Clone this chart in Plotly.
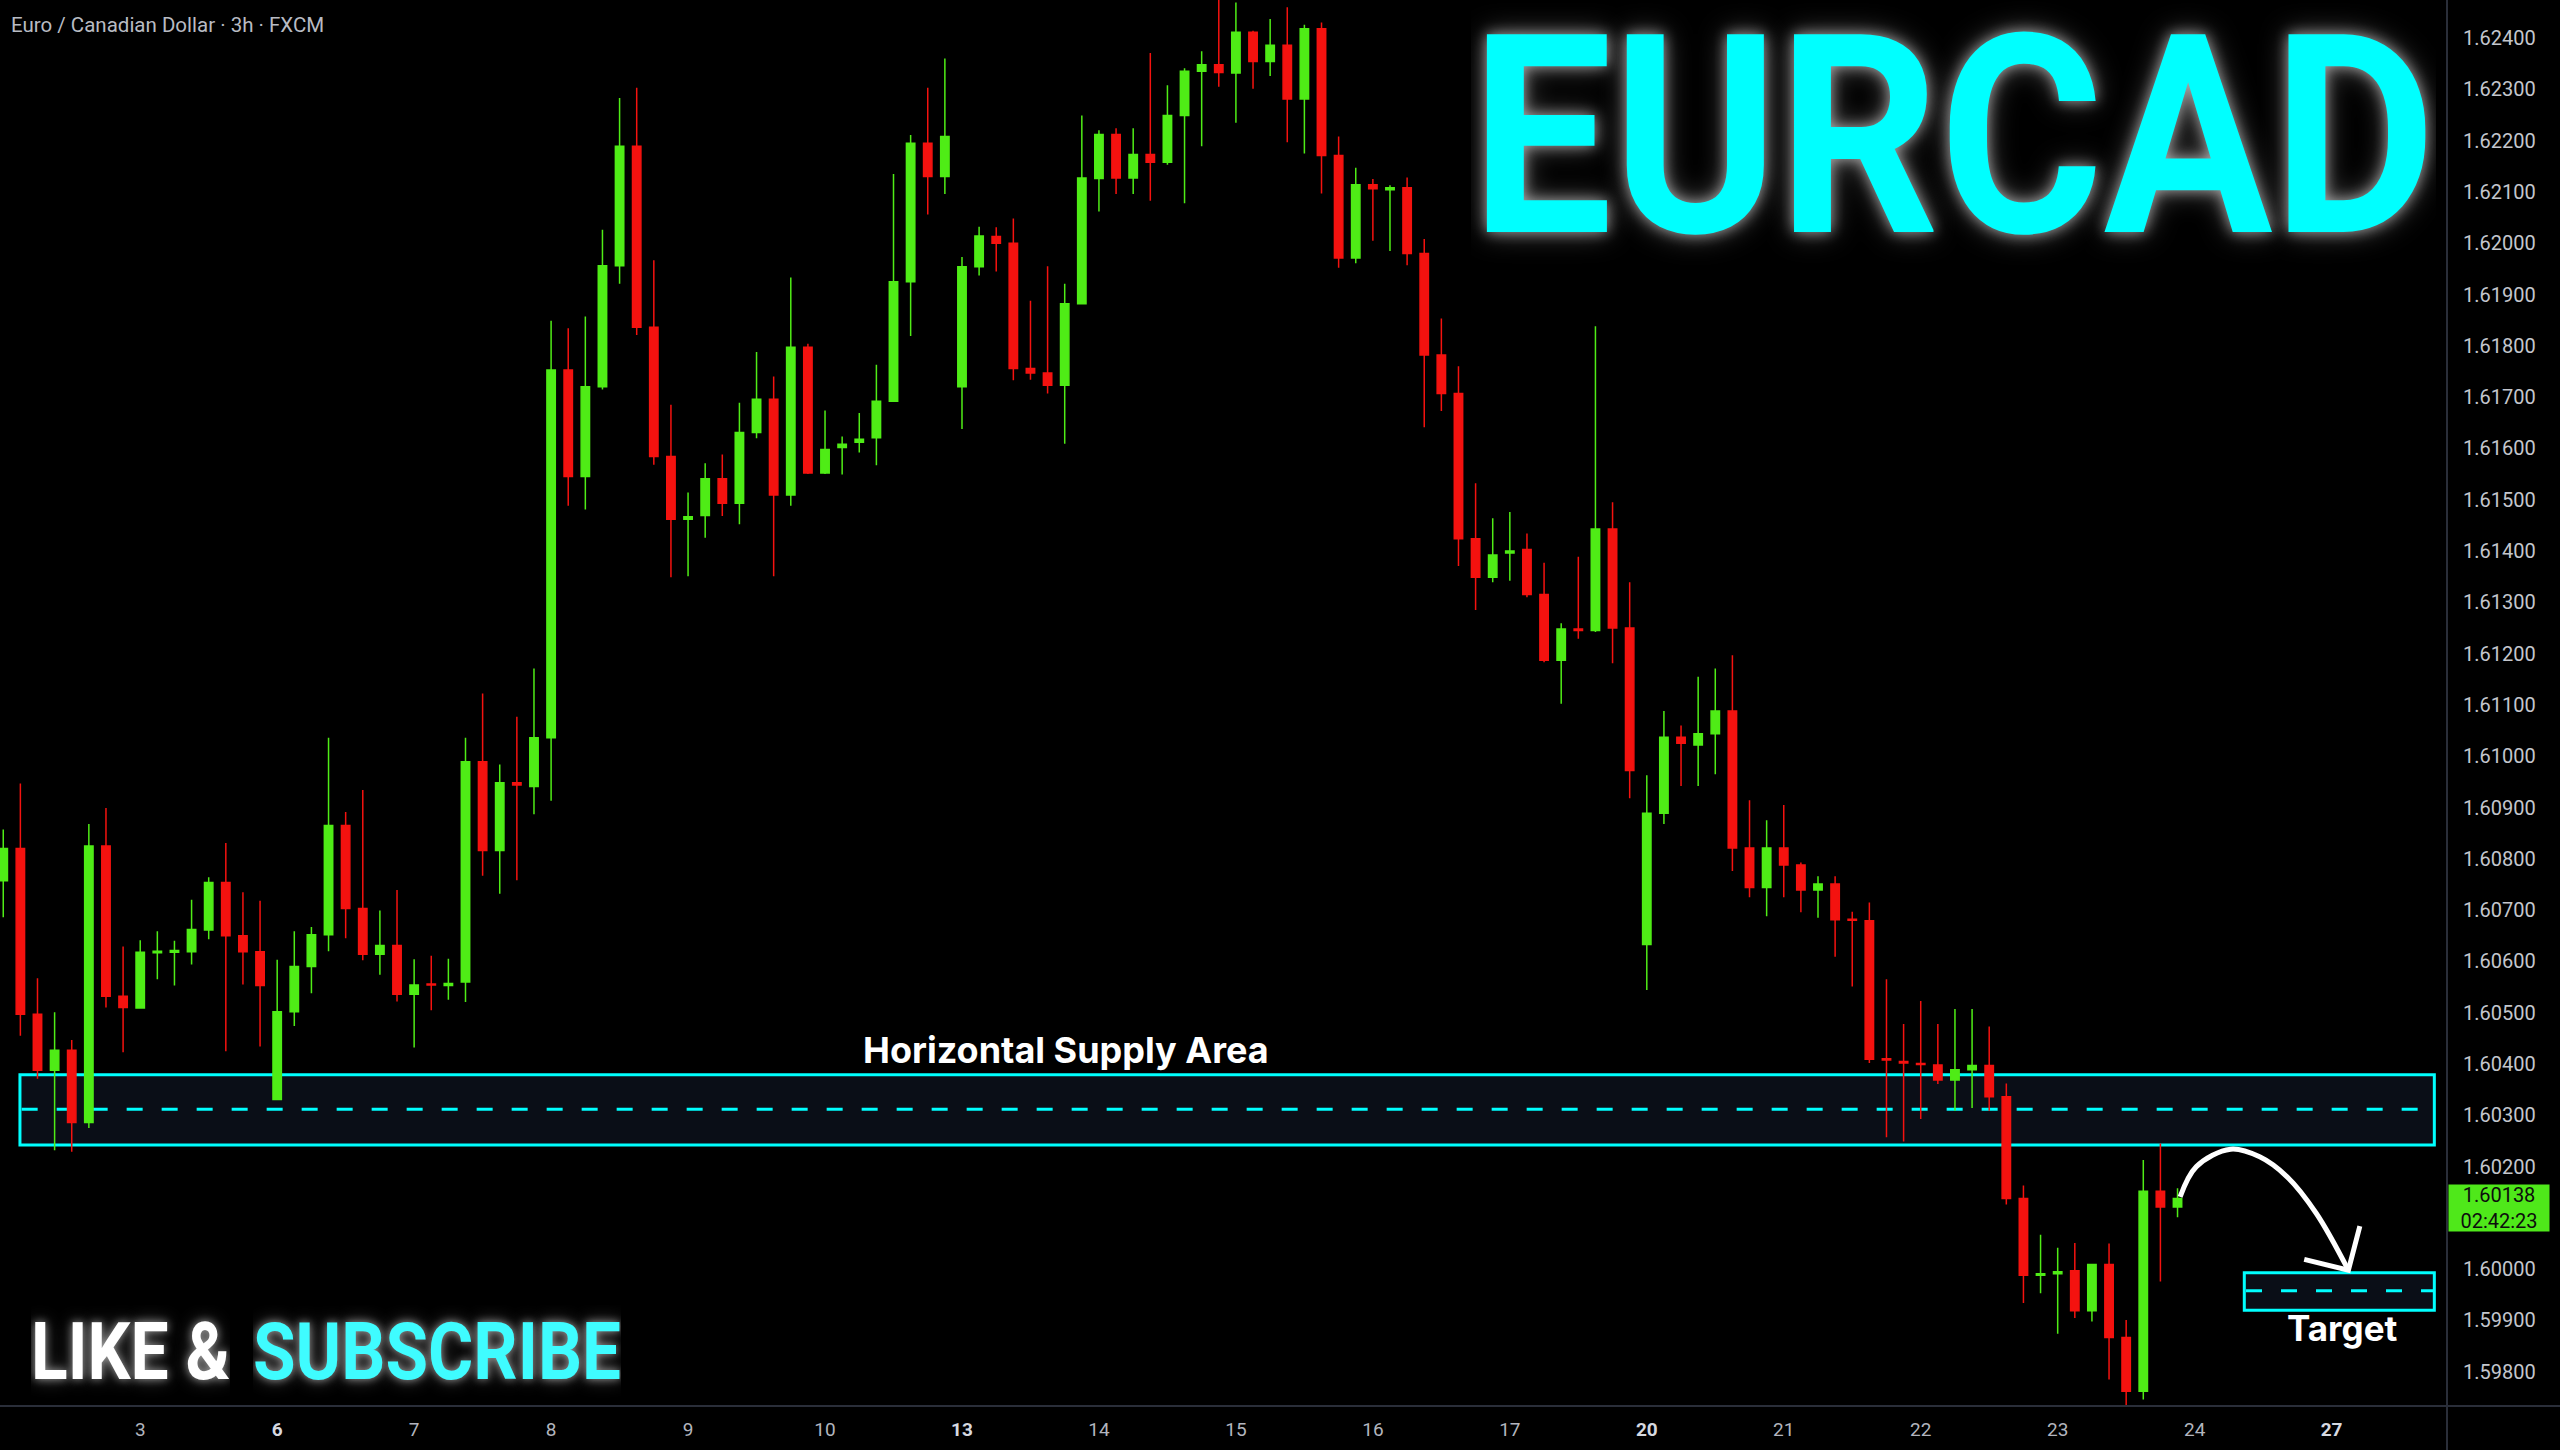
import json
import plotly.graph_objects as go

# ---------------- data ----------------
opens = [1.60757, 1.60820, 1.60497, 1.60388, 1.60427, 1.60286, 1.60825, 1.60532, 1.60509, 1.60617,
         1.60618, 1.60619, 1.60661, 1.60754, 1.60650, 1.60619, 1.60331, 1.60502, 1.60590, 1.60652,
         1.60865, 1.60703, 1.60614, 1.60631, 1.60536, 1.60556, 1.60553, 1.60560, 1.60989, 1.60816,
         1.60948, 1.60941, 1.61036, 1.61753, 1.61545, 1.61720, 1.61956, 1.62189, 1.61836, 1.61584,
         1.61462, 1.61469, 1.61541, 1.61493, 1.61631, 1.61696, 1.61509, 1.61797, 1.61552, 1.61602,
         1.61612, 1.61621, 1.61692, 1.61925, 1.62195, 1.62130, 1.61720, 1.61954, 1.62013, 1.62000,
         1.61756, 1.61747, 1.61723, 1.61882, 1.62126, 1.62212, 1.62127, 1.62173, 1.62158, 1.62249,
         1.62335, 1.62348, 1.62332, 1.62411, 1.62354, 1.62386, 1.62281, 1.62418, 1.62171, 1.61971,
         1.62114, 1.62104, 1.62108, 1.61980, 1.61782, 1.61707, 1.61424, 1.61349, 1.61396, 1.61403,
         1.61315, 1.61187, 1.61248, 1.61245, 1.61443, 1.61250, 1.60633, 1.60889, 1.61037, 1.61022,
         1.61044, 1.61088, 1.60821, 1.60744, 1.60821, 1.60788, 1.60739, 1.60751, 1.60682, 1.60679,
         1.60410, 1.60405, 1.60401, 1.60398, 1.60369, 1.60389, 1.60397, 1.60336, 1.60138, 1.59988,
         1.59991, 1.59997, 1.59919, 1.60009, 1.59867, 1.59762, 1.60152, 1.60121]
highs = [1.60857, 1.60947, 1.60567, 1.60501, 1.60447, 1.60868, 1.60899, 1.60629, 1.60641, 1.60659,
         1.60640, 1.60720, 1.60764, 1.60831, 1.60735, 1.60718, 1.60603, 1.60659, 1.60667, 1.61036,
         1.60891, 1.60934, 1.60699, 1.60739, 1.60604, 1.60611, 1.60605, 1.61036, 1.61122, 1.60984,
         1.61077, 1.61171, 1.61849, 1.61834, 1.61857, 1.62026, 1.62283, 1.62303, 1.61967, 1.61685,
         1.61514, 1.61571, 1.61588, 1.61689, 1.61788, 1.61740, 1.61933, 1.61804, 1.61674, 1.61623,
         1.61669, 1.61763, 1.62135, 1.62211, 1.62303, 1.62360, 1.61973, 1.62032, 1.62031, 1.62048,
         1.61888, 1.61955, 1.61921, 1.62249, 1.62220, 1.62224, 1.62224, 1.62371, 1.62308, 1.62341,
         1.62374, 1.62480, 1.62469, 1.62414, 1.62437, 1.62460, 1.62426, 1.62430, 1.62208, 1.62147,
         1.62125, 1.62113, 1.62128, 1.62008, 1.61853, 1.61760, 1.61532, 1.61464, 1.61476, 1.61434,
         1.61377, 1.61259, 1.61389, 1.61838, 1.61495, 1.61339, 1.60963, 1.61088, 1.61060, 1.61155,
         1.61171, 1.61197, 1.60914, 1.60875, 1.60905, 1.60793, 1.60766, 1.60766, 1.60697, 1.60715,
         1.60565, 1.60478, 1.60523, 1.60478, 1.60507, 1.60507, 1.60473, 1.60362, 1.60163, 1.60067,
         1.60042, 1.60051, 1.60009, 1.60050, 1.59901, 1.60213, 1.60245, 1.60158]
lows = [1.60686, 1.60455, 1.60371, 1.60232, 1.60229, 1.60275, 1.60510, 1.60423, 1.60509, 1.60565,
        1.60553, 1.60594, 1.60643, 1.60425, 1.60555, 1.60434, 1.60331, 1.60474, 1.60538, 1.60620,
        1.60645, 1.60602, 1.60574, 1.60522, 1.60432, 1.60505, 1.60525, 1.60521, 1.60767, 1.60732,
        1.60758, 1.60887, 1.60913, 1.61488, 1.61481, 1.61715, 1.61921, 1.61821, 1.61568, 1.61349,
        1.61351, 1.61426, 1.61468, 1.61452, 1.61620, 1.61351, 1.61488, 1.61550, 1.61550, 1.61549,
        1.61592, 1.61567, 1.61692, 1.61819, 1.62056, 1.62096, 1.61638, 1.61937, 1.61945, 1.61733,
        1.61734, 1.61707, 1.61609, 1.61882, 1.62062, 1.62096, 1.62096, 1.62083, 1.62153, 1.62078,
        1.62189, 1.62305, 1.62235, 1.62301, 1.62326, 1.62197, 1.62175, 1.62097, 1.61952, 1.61961,
        1.62005, 1.61985, 1.61957, 1.61641, 1.61673, 1.61371, 1.61285, 1.61339, 1.61342, 1.61310,
        1.61183, 1.61102, 1.61229, 1.61242, 1.61181, 1.60918, 1.60544, 1.60868, 1.60942, 1.60942,
        1.60965, 1.60776, 1.60725, 1.60688, 1.60725, 1.60696, 1.60685, 1.60609, 1.60551, 1.60402,
        1.60257, 1.60249, 1.60293, 1.60361, 1.60309, 1.60314, 1.60309, 1.60126, 1.59934, 1.59953,
        1.59874, 1.59905, 1.59898, 1.59785, 1.59733, 1.59746, 1.59976, 1.60101]
closes = [1.60820, 1.60497, 1.60388, 1.60427, 1.60286, 1.60825, 1.60532, 1.60510, 1.60618, 1.60620,
          1.60621, 1.60662, 1.60754, 1.60650, 1.60619, 1.60553, 1.60502, 1.60590, 1.60652, 1.60865,
          1.60703, 1.60614, 1.60631, 1.60536, 1.60554, 1.60554, 1.60557, 1.60989, 1.60816, 1.60948,
          1.60944, 1.61036, 1.61753, 1.61545, 1.61720, 1.61956, 1.62189, 1.61836, 1.61584, 1.61462,
          1.61467, 1.61541, 1.61493, 1.61631, 1.61696, 1.61509, 1.61797, 1.61552, 1.61598, 1.61608,
          1.61618, 1.61692, 1.61925, 1.62195, 1.62130, 1.62208, 1.61954, 1.62014, 1.62000, 1.61756,
          1.61747, 1.61723, 1.61882, 1.62127, 1.62212, 1.62127, 1.62173, 1.62158, 1.62249, 1.62335,
          1.62348, 1.62333, 1.62411, 1.62354, 1.62386, 1.62281, 1.62418, 1.62171, 1.61971, 1.62114,
          1.62106, 1.62108, 1.61980, 1.61782, 1.61707, 1.61424, 1.61349, 1.61392, 1.61400, 1.61315,
          1.61187, 1.61248, 1.61245, 1.61443, 1.61250, 1.60972, 1.60889, 1.61037, 1.61025, 1.61044,
          1.61088, 1.60821, 1.60744, 1.60821, 1.60788, 1.60739, 1.60751, 1.60681, 1.60680, 1.60409,
          1.60408, 1.60402, 1.60399, 1.60369, 1.60389, 1.60397, 1.60336, 1.60138, 1.59988, 1.59991,
          1.59995, 1.59919, 1.60009, 1.59867, 1.59762, 1.60152, 1.60121, 1.60138]

day_labels = ["2", "3", "6", "7", "8", "9", "10", "13", "14", "15", "16", "17",
              "20", "21", "22", "23", "24", "27"]
day_first_bar = [0, 8, 16, 24, 32, 40, 48, 56, 64, 72, 80, 88, 96, 104, 112, 120, 128, 136]
week_start_labels = ["6", "13", "20", "27"]

price_ticks = [1.598, 1.599, 1.600, 1.601, 1.602, 1.603, 1.604, 1.605, 1.606, 1.607, 1.608,
               1.609, 1.610, 1.611, 1.612, 1.613, 1.614, 1.615, 1.616, 1.617, 1.618, 1.619,
               1.620, 1.621, 1.622, 1.623, 1.624]

supply_zone = (1.60242, 1.60379)
supply_mid = 1.60312
target_zone = (1.59920, 1.59993)
target_mid = 1.59958
current_price = 1.60138
countdown = "02:42:23"

# hand-drawn arrow path (bar index, price)
arrow_x = [127.15, 128.1, 130.1, 131.8, 133.4, 135.1, 136.98]
arrow_y = [1.60141, 1.60200, 1.60234, 1.60219, 1.60180, 1.60109, 1.59998]
arrowhead_x = [137.65, 136.98, 134.4]
arrowhead_y = [1.60084, 1.59998, 1.60019]

# ---------------- figure ----------------
bars = list(range(len(opens)))
GREEN = "#4fec16"
RED = "#f4120f"
CYAN = "#00ffff"
PW, PH = 2447, 1406  # plot area in px

fig = go.Figure()
fig.add_trace(go.Candlestick(
    x=bars, open=opens, high=highs, low=lows, close=closes,
    increasing=dict(line=dict(color=GREEN, width=1.5), fillcolor=GREEN),
    decreasing=dict(line=dict(color=RED, width=1.5), fillcolor=RED),
    whiskerwidth=0, hoverinfo="skip", showlegend=False,
))
fig.add_trace(go.Scatter(x=arrow_x, y=arrow_y, mode="lines",
                         line=dict(color="white", width=5, shape="spline", smoothing=1.0),
                         hoverinfo="skip", showlegend=False))
fig.add_trace(go.Scatter(x=arrowhead_x, y=arrowhead_y, mode="lines",
                         line=dict(color="white", width=5),
                         hoverinfo="skip", showlegend=False))

shapes = []
for (lo, hi), mid, xa, xb in [(supply_zone, supply_mid, 0.975, 142.0),
                              (target_zone, target_mid, 130.9, 142.0)]:
    shapes.append(dict(type="rect", xref="x", yref="y", x0=xa, x1=xb, y0=lo, y1=hi,
                       fillcolor="#0a0e17", line=dict(color=CYAN, width=3), layer="below"))
    shapes.append(dict(type="line", xref="x", yref="y", x0=xa + 0.1, x1=xb, y0=mid, y1=mid,
                       line=dict(color=CYAN, width=3, dash="16px,19px"), layer="below"))
# pane separators
shapes.append(dict(type="line", xref="paper", yref="paper", x0=1, x1=1, y0=-0.04, y1=1,
                   line=dict(color="#2a2e39", width=2)))
shapes.append(dict(type="line", xref="paper", yref="paper", x0=0, x1=1.05, y0=0, y1=0,
                   line=dict(color="#2a2e39", width=2)))

ticktext = []
for lab in day_labels:
    if lab in week_start_labels:
        ticktext.append("<b><span style='color:#d6d9e0'>%s</span></b>" % lab)
    else:
        ticktext.append(lab)

GLOW_BIG = "0px 0px 14px rgba(255,255,255,0.55), 0px 0px 30px rgba(255,255,255,0.35)"
GLOW_SMALL = "0px 0px 9px rgba(255,255,255,0.55), 0px 0px 20px rgba(255,255,255,0.3)"

# condensed poster lettering: squeezed horizontally to the reference widths
text_lengths = {"EURCAD": 965, "LIKE &": 199, "SUBSCRIBE": 368}

annotations = [
    dict(xref="paper", yref="paper", x=9 / PW, y=1 - 25 / PH, xanchor="left", yanchor="middle",
         text="Euro / Canadian Dollar · 3h · FXCM", showarrow=False,
         font=dict(family="Roboto", size=20.5, color="#b8bbc3")),
    dict(xref="paper", yref="paper", x=1953 / PW, y=1 - 137 / PH, xanchor="center", yanchor="middle",
         text="EURCAD", showarrow=False, width=text_lengths["EURCAD"],
         font=dict(family="Roboto", size=278, weight=700, color=CYAN, shadow=GLOW_BIG)),
    dict(xref="paper", yref="paper", x=130.7 / PW, y=1 - 1352 / PH, xanchor="center", yanchor="middle",
         text="LIKE &", showarrow=False, width=text_lengths["LIKE &"],
         font=dict(family="Roboto", size=80, weight=700, color="white", shadow=GLOW_SMALL)),
    dict(xref="paper", yref="paper", x=436.5 / PW, y=1 - 1352 / PH, xanchor="center", yanchor="middle",
         text="SUBSCRIBE", showarrow=False, width=text_lengths["SUBSCRIBE"],
         font=dict(family="Roboto", size=80, weight=700, color="#3ffcff", shadow=GLOW_SMALL)),
    dict(xref="x", yref="y", x=62.1, y=1.60427, xanchor="center", yanchor="middle",
         text="<b>Horizontal Supply Area</b>", showarrow=False,
         font=dict(family="Inter", size=36, color="white")),
    dict(xref="x", yref="y", x=136.6, y=1.59886, xanchor="center", yanchor="middle",
         text="<b>Target</b>", showarrow=False,
         font=dict(family="Inter", size=35, color="white")),
    dict(xref="paper", yref="y", x=1, y=current_price, xanchor="left", yanchor="middle",
         xshift=1, yshift=-10, showarrow=False,
         text="%.5f<br>%s" % (current_price, countdown),
         font=dict(family="Roboto", size=20, color="#0d0d0d"),
         bgcolor="#4fe81a", width=100, height=46, align="center", borderpad=0),
]

fig.update_layout(
    template="none",
    width=2560, height=1450, autosize=False,
    margin=dict(l=0, r=2560 - PW, t=0, b=1450 - PH, pad=0),
    paper_bgcolor="#000000", plot_bgcolor="#000000",
    showlegend=False,
    shapes=shapes, annotations=annotations,
    xaxis=dict(range=[-0.19, 142.74], tickmode="array", tickvals=day_first_bar, ticktext=ticktext,
               showgrid=False, zeroline=False, showline=False, ticks="", automargin=False,
               tickfont=dict(family="Roboto", size=19, color="#b2b5be"),
               ticklabelstandoff=10, rangeslider=dict(visible=False), fixedrange=True),
    yaxis=dict(range=[1.597333, 1.624741], side="right", tickmode="array", tickvals=price_ticks,
               ticktext=["%.5f" % v for v in price_ticks],
               showgrid=False, zeroline=False, showline=False, ticks="", automargin=False,
               tickfont=dict(family="Roboto", size=20, color="#c3c6cd"),
               ticklabelstandoff=15, fixedrange=True),
)

post_js = """
document.body.style.margin = '0px';
document.body.style.overflow = 'hidden';
var LEN = %s;
function fitTexts() {
  document.querySelectorAll('.annotation-text').forEach(function (t) {
    var s = t.textContent;
    if (LEN.hasOwnProperty(s)) {
      t.setAttribute('textLength', LEN[s]);
      t.setAttribute('lengthAdjust', 'spacingAndGlyphs');
    }
  });
}
var gd = document.getElementById('{plot_id}');
fitTexts();
if (gd && gd.on) { gd.on('plotly_afterplot', fitTexts); }
setTimeout(fitTexts, 50);
""" % json.dumps(text_lengths)

fig.write_html("out.html", post_script=post_js, config={"displayModeBar": False})
